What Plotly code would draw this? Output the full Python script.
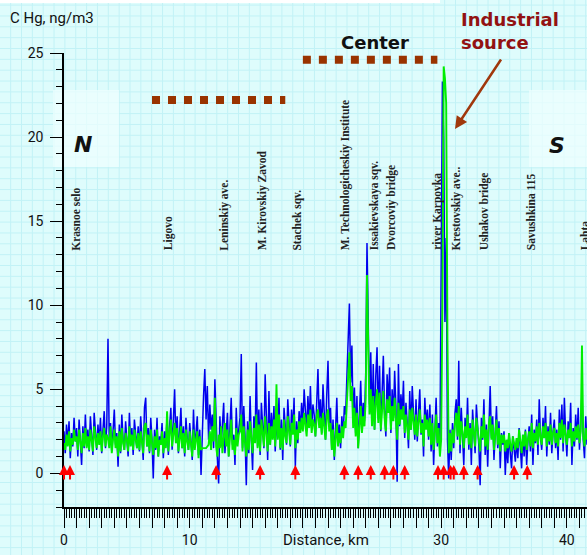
import plotly.graph_objects as go

W, H = 587, 555

# ---------------- data ----------------
distance_start_km = 0.0
distance_step_km = 0.1

blue_hg = [
    2.5,1.2,2.9,1.8,3.1,0.9,2.4,1.6,3.3,1.9,
    2.7,1.0,3.2,2.1,0.5,2.8,1.5,3.5,1.7,2.6,
    1.3,3.4,2.0,1.1,3.6,2.3,1.4,2.9,1.8,3.3,
    1.2,2.6,3.7,1.5,2.8,8.0,1.9,3.0,1.3,2.5,
    3.8,1.7,2.4,0.4,2.9,1.2,3.5,2.0,1.4,3.1,
    2.2,1.0,3.6,1.7,2.7,1.1,3.2,2.4,1.5,2.8,
    1.3,3.4,2.1,0.8,3.9,4.5,1.6,2.7,1.2,3.3,
    2.0,-0.3,2.6,1.4,3.3,1.0,2.2,1.8,3.0,0.9,
    2.5,1.6,3.5,1.1,2.8,3.9,1.4,2.9,5.0,1.8,
    3.4,1.2,2.6,3.9,1.5,2.8,1.0,3.3,2.1,1.4,
    3.0,1.9,0.8,3.8,1.6,2.4,3.4,1.1,2.6,-0.1,
    2.8,4.6,6.2,3.2,5.2,2.0,4.1,2.6,3.5,1.5,
    5.6,2.3,0.9,-0.6,3.4,1.6,2.9,4.2,1.2,2.5,
    3.6,1.0,2.8,4.5,1.7,2.3,0.5,3.9,1.9,2.7,
    3.3,7.1,1.5,4.0,2.2,-0.7,3.1,1.2,4.6,2.0,
    0.2,3.4,2.0,6.6,1.6,3.8,1.1,4.2,2.4,1.5,
    5.9,2.5,0.8,4.9,1.7,3.6,2.2,4.0,1.3,3.3,
    2.1,4.5,1.4,3.2,0.8,3.9,2.4,1.7,4.4,2.9,
    1.6,3.8,2.5,4.5,0.4,3.1,1.8,3.7,2.6,4.2,
    2.9,5.0,3.3,2.5,4.6,3.0,5.2,2.7,4.1,3.5,
    2.2,4.8,6.2,3.1,4.4,2.4,5.3,3.6,2.0,4.7,
    6.7,2.8,3.9,1.4,3.2,0.8,2.6,4.5,1.7,2.9,
    1.5,3.4,2.2,4.0,3.5,6.2,8.3,10.1,5.4,7.6,
    3.0,5.1,2.4,4.6,1.5,3.8,5.5,2.7,4.2,3.1,
    6.0,13.7,9.0,4.1,7.2,3.0,6.5,2.6,5.8,7.5,
    3.2,6.4,2.5,5.3,7.0,3.7,2.2,5.9,4.1,6.3,
    2.4,5.0,3.3,6.1,4.0,-0.5,6.5,2.8,4.7,3.5,
    5.5,2.1,4.2,3.0,1.5,4.9,2.6,5.2,3.4,2.0,
    4.4,1.9,3.6,5.0,2.3,3.2,1.0,4.5,2.8,3.8,
    2.0,4.1,1.3,3.5,0.5,2.7,4.5,1.6,3.0,1.2,
    12.0,23.3,20.0,9.0,14.0,2.0,-0.3,2.6,0.8,3.0,
    1.5,3.6,4.4,2.0,6.7,1.2,3.9,2.5,0.5,3.3,
    2.2,4.5,1.4,3.0,0.5,3.8,2.4,1.2,4.1,2.7,
    1.6,-0.7,3.3,2.0,4.4,1.1,2.9,0.4,3.6,5.2,
    2.1,3.4,0.8,2.6,4.0,1.5,3.1,0.3,2.4,1.7,
    2.5,-0.1,1.8,0.6,2.4,1.2,0.3,2.2,1.5,0.7,
    2.0,0.9,2.7,1.4,0.3,2.3,1.0,2.6,0.5,1.9,
    2.8,1.3,3.5,0.5,2.6,1.8,3.2,1.1,4.4,2.2,
    1.4,3.3,2.1,4.0,1.0,2.8,1.7,3.6,1.2,2.5,
    3.2,1.5,2.6,0.8,3.8,2.0,4.1,1.3,4.5,2.4,
    1.0,3.1,2.2,4.2,0.5,2.7,1.6,3.5,2.0,3.9,
    1.4,2.8,4.9,2.0,0.9,3.4,1.7,
]

green_hg = [
    1.8,1.4,2.3,1.6,2.5,1.3,2.1,1.7,2.6,1.9,
    2.2,1.4,2.6,1.8,1.2,2.4,1.6,2.7,1.5,2.2,
    1.4,2.6,1.9,1.3,2.8,2.0,1.5,2.4,1.7,2.5,
    1.3,2.2,2.7,1.6,2.3,2.1,1.5,2.8,1.2,2.0,
    2.6,1.5,2.2,1.0,2.5,1.3,2.7,1.8,1.4,2.4,
    2.0,1.3,2.8,1.6,2.3,1.4,2.6,2.0,1.5,2.4,
    1.4,2.5,1.9,1.2,2.8,3.0,1.6,2.3,1.3,2.6,
    1.8,1.1,2.2,1.5,2.6,1.0,2.0,1.7,2.5,1.2,
    2.1,1.5,3.7,1.3,2.4,3.2,1.6,2.5,3.0,1.8,
    2.7,1.3,2.2,2.8,1.5,2.4,1.2,2.6,1.9,1.4,
    2.5,1.7,1.0,2.6,1.4,2.0,2.5,0.9,2.2,1.4,
    1.5,1.5,1.5,1.5,1.6,1.7,2.5,1.4,2.8,1.9,
    4.5,1.6,1.0,2.3,1.5,2.8,1.2,2.4,3.0,1.6,
    2.6,1.0,2.2,3.2,1.4,2.0,1.1,2.7,1.6,2.3,
    2.5,3.5,1.3,2.8,1.8,1.0,2.6,1.4,3.1,1.9,
    1.2,2.7,1.8,3.5,1.5,2.9,1.3,3.2,2.1,1.6,
    3.4,2.2,1.3,3.0,1.7,2.8,2.0,3.2,1.6,5.3,
    2.0,3.5,1.5,2.7,1.4,3.2,2.2,1.8,3.4,2.5,
    1.7,3.0,2.3,3.5,1.5,2.6,2.0,3.1,2.4,3.3,
    2.5,3.6,2.8,2.2,3.5,2.7,3.8,2.4,3.2,2.9,
    2.2,3.4,3.8,2.7,3.3,2.3,3.6,2.8,2.0,3.4,
    3.8,2.5,3.0,1.4,2.6,1.0,2.2,3.0,1.6,2.4,
    1.8,2.8,2.1,3.1,2.7,4.2,6.0,7.2,4.3,5.2,
    2.7,3.9,2.2,3.6,1.5,3.0,4.0,2.4,3.4,2.8,
    4.5,11.8,7.0,3.5,5.0,2.8,4.6,2.6,4.2,5.0,
    3.0,4.8,2.6,4.1,4.9,3.3,2.5,4.4,3.6,4.6,
    2.6,4.0,3.1,4.5,3.5,2.0,4.2,2.9,3.8,3.2,
    4.0,2.4,3.5,2.9,2.0,3.8,2.6,3.9,3.1,2.3,
    3.5,2.2,3.1,3.8,2.4,3.0,1.6,3.5,2.6,3.2,
    2.2,3.3,1.7,3.0,1.4,2.5,3.5,1.8,2.7,1.0,
    2.0,10.0,24.2,23.5,22.0,8.0,1.2,2.4,1.3,2.6,
    1.8,3.0,3.6,2.2,4.0,1.7,3.1,2.4,1.5,2.8,
    2.1,3.5,1.7,2.7,1.5,3.2,2.3,1.6,3.3,2.5,
    1.8,1.3,2.8,2.1,3.5,1.6,2.6,1.4,3.0,3.4,
    2.0,2.9,1.4,2.4,3.2,1.7,2.7,1.3,2.3,1.8,
    2.3,1.3,2.0,1.5,2.4,1.7,1.3,2.2,1.8,1.4,
    2.1,1.5,2.6,1.8,1.2,2.3,1.6,2.5,1.4,2.0,
    2.5,1.6,3.0,1.5,2.4,1.9,2.8,1.7,3.0,2.2,
    1.7,2.8,2.1,3.0,1.6,2.5,1.9,2.9,1.7,2.4,
    2.7,1.8,2.4,1.6,3.0,2.1,3.2,1.8,2.9,2.3,
    1.7,2.6,2.1,3.0,1.6,2.5,1.9,2.8,2.1,2.9,
    1.8,2.5,7.6,2.2,1.6,2.7,2.0,
]

distance_km = [round(distance_start_km + i * distance_step_km, 1) for i in range(len(blue_hg))]

location_names = [
    "Krasnoe selo", "Ligovo", "Leninskiy ave.", "M. Kirovskiy Zavod", "Stachek sqv.",
    "M. Technologicheskiy Institute", "Issakievskaya sqv.", "Dvorcoviy bridge",
    "river Karpovka", "Krestovskiy ave..", "Ushakov bridge", "Savushkina 115", "Lahta",
]
location_km = [0.95, 8.27, 12.8, 15.75, 18.6, 22.35, 24.66, 26.1, 29.75, 31.2, 33.4, 37.1, 41.45]

arrow_km = [0.0, 0.48, 8.2, 12.1, 15.6, 18.4, 22.3, 23.4, 24.4, 25.5, 26.2, 27.1,
            29.75, 30.2, 30.75, 31.0, 31.8, 32.9, 35.8, 36.85]

center_zone_km = [19.0, 29.7]
center_zone_level = 24.6
south_west_zone_km = [7.0, 17.6]
south_west_zone_level = 22.2

x_tick_labels = {0: "0", 10: "10", 30: "30", 40: "40"}
y_tick_values = [0, 5, 10, 15, 20, 25]

# ---------------- figure ----------------
BG = "#defcfc"
GRID = "#c2f2f6"
COND = "Roboto, Liberation Sans Narrow, DejaVu Sans Condensed, sans-serif"

fig = go.Figure()

fig.add_trace(go.Scatter(x=distance_km, y=blue_hg, mode="lines",
                         line=dict(color="#0000ee", width=1.5), showlegend=False, hoverinfo="skip"))
fig.add_trace(go.Scatter(x=distance_km, y=green_hg, mode="lines",
                         line=dict(color="#00ee00", width=1.9), showlegend=False, hoverinfo="skip"))

for zone, lvl in ((south_west_zone_km, south_west_zone_level), (center_zone_km, center_zone_level)):
    fig.add_trace(go.Scatter(x=zone, y=[lvl, lvl], mode="lines",
                             line=dict(color="#993300", width=8, dash="8px,8px"),
                             showlegend=False, hoverinfo="skip"))

shapes = []
step = 10.85
px = 10.65
while px < W:
    shapes.append(dict(type="line", xref="paper", yref="paper", x0=px / W, x1=px / W, y0=0, y1=1,
                       line=dict(color=GRID, width=1), layer="below"))
    px += step
py = 5.1
while py < H:
    shapes.append(dict(type="line", xref="paper", yref="paper", y0=1 - py / H, y1=1 - py / H, x0=0, x1=1,
                       line=dict(color=GRID, width=1), layer="below"))
    py += step
for (x0, x1) in ((53, 119), (529, 587)):
    shapes.append(dict(type="rect", xref="paper", yref="paper", x0=x0 / W, x1=x1 / W,
                       y0=1 - 167 / H, y1=1 - 90 / H, fillcolor="rgba(240,255,255,0.7)",
                       line=dict(width=0), layer="below"))
shapes.append(dict(type="rect", xref="paper", yref="paper", x0=0, x1=440 / W, y0=1 - 3 / H, y1=1,
                   fillcolor="white", line=dict(width=0), layer="below"))

annotations = []
for name, km in zip(location_names, location_km):
    annotations.append(dict(x=km, y=13.15, xref="x", yref="y", text=name, textangle=-90,
                            showarrow=False, xanchor="center", yanchor="bottom",
                            font=dict(family="Liberation Serif, DejaVu Serif, serif", size=11.5,
                                      color="#222222", weight="bold")))
for km in arrow_km:
    annotations.append(dict(x=km, y=0.5, ax=km, ay=-0.45, xref="x", yref="y", axref="x", ayref="y",
                            text="", showarrow=True, arrowhead=2, arrowsize=1, arrowwidth=2,
                            arrowcolor="#ff0000"))

annotations += [
    dict(x=8 / W, y=1 - 18 / H, xref="paper", yref="paper", text="C Hg, ng/m3", showarrow=False,
         xanchor="left", yanchor="middle", font=dict(family=COND, size=15, color="#111111")),
    dict(x=326 / W, y=1 - 540 / H, xref="paper", yref="paper", text="Distance, km", showarrow=False,
         xanchor="center", yanchor="middle", font=dict(family=COND, size=15, color="#111111")),
    dict(x=375 / W, y=1 - 42 / H, xref="paper", yref="paper", text="<b>Center</b>", showarrow=False,
         xanchor="center", yanchor="middle", font=dict(family="DejaVu Sans", size=18, color="#111111")),
    dict(x=459 / W, y=1 - 31 / H, xref="paper", yref="paper", text="<b>Industrial<br>source</b>",
         showarrow=False, xanchor="left", yanchor="middle", align="left",
         font=dict(family="DejaVu Sans", size=18, color="#921212")),
    dict(x=455 / W, y=1 - 129 / H, ax=47, ay=-71, xref="paper", yref="paper",
         axref="pixel", ayref="pixel", text="", showarrow=True, arrowhead=2, arrowsize=1,
         arrowwidth=2.5, arrowcolor="#a0380c"),
    dict(x=83 / W, y=1 - 144 / H, xref="paper", yref="paper", text="<b><i>N</i></b>", showarrow=False,
         xanchor="center", yanchor="middle", font=dict(family="DejaVu Sans", size=22, color="#111111")),
    dict(x=557 / W, y=1 - 145 / H, xref="paper", yref="paper", text="<b><i>S</i></b>", showarrow=False,
         xanchor="center", yanchor="middle", font=dict(family="DejaVu Sans", size=22, color="#111111")),
]

tickvals_x = list(range(0, 42))
ticktext_x = [x_tick_labels.get(v, "") for v in tickvals_x]

fig.update_layout(
    width=W, height=H, autosize=False,
    margin=dict(l=0, r=0, t=0, b=0, pad=0),
    paper_bgcolor=BG, plot_bgcolor="rgba(0,0,0,0)",
    shapes=shapes, annotations=annotations, showlegend=False,
    xaxis=dict(domain=[64 / W, 1], range=[0, 41.6], showgrid=False, zeroline=False, automargin=False,
               showline=True, linecolor="black", linewidth=1.5,
               ticks="outside", ticklen=19, tickwidth=1, tickcolor="black",
               tickvals=tickvals_x, ticktext=ticktext_x,
               tickfont=dict(family=COND, size=14, color="#111111"),
               minor=dict(dtick=0.2, tick0=0, ticks="outside", ticklen=9, tickwidth=1,
                          tickcolor="black", showgrid=False)),
    yaxis=dict(domain=[(H - 507) / H, (H - 53) / H], range=[-2, 25], showgrid=False, zeroline=False,
               automargin=False,
               showline=True, linecolor="black", linewidth=1.5,
               ticks="outside", ticklen=12, tickwidth=1, tickcolor="black",
               tickvals=y_tick_values, ticklabelstandoff=4,
               tickfont=dict(family=COND, size=14, color="#111111"),
               minor=dict(dtick=1, tick0=0, ticks="outside", ticklen=6, tickwidth=1,
                          tickcolor="black", showgrid=False)),
)

fig.write_html("out.html", config={"displayModeBar": False},
               post_script="document.body.style.margin='0px';")
